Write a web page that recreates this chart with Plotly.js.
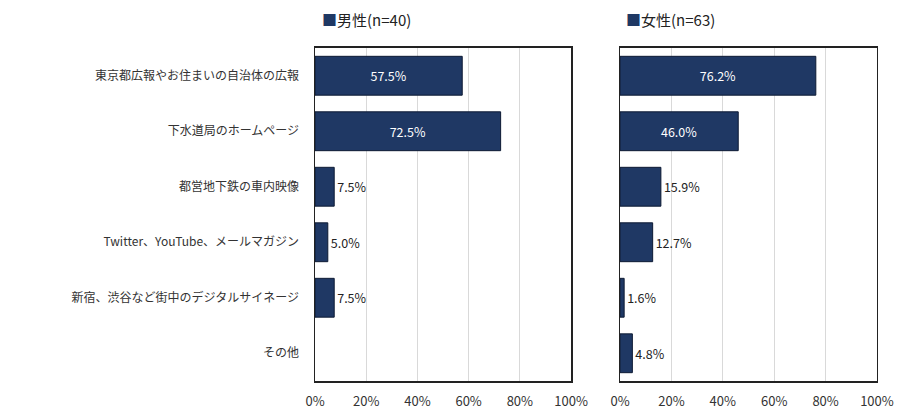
<!DOCTYPE html>
<html><head><meta charset="utf-8">
<script src="https://cdn.plot.ly/plotly-3.0.1.min.js"></script>
<style>html,body{margin:0;padding:0;background:#fff}#chart{width:899px;height:417px}</style>
</head><body><div id="chart"></div>
<script>
const categories = ["東京都広報やお住まいの自治体の広報","下水道局のホームページ","都営地下鉄の車内映像","Twitter、YouTube、メールマガジン","新宿、渋谷など街中のデジタルサイネージ","その他"];
const maleValues = [57.5, 72.5, 7.5, 5.0, 7.5, 0];
const femaleValues = [76.2, 46.0, 15.9, 12.7, 1.6, 4.8];
const maleName = "男性(n=40)";
const femaleName = "女性(n=63)";
const tickVals = [0, 20, 40, 60, 80, 100];
const tickText = ["0%", "20%", "40%", "60%", "80%", "100%"];

const navy = "#1f3864";
const font = "'Noto Sans CJK JP', 'Noto Sans', sans-serif";
function texts(v){ return v.map(x => x > 0 ? x.toFixed(1) + "%" : ""); }
function pos(v){ return v.map(x => x >= 40 ? "inside" : "outside"); }
function lw(v){ return v.map(x => x > 0 ? 1 : 0); }

function mk(vals, xa, ya){
  return {type:"bar", orientation:"h", y:categories, x:vals, xaxis:xa, yaxis:ya,
   text:texts(vals), textposition:pos(vals), insidetextanchor:"middle",
   texttemplate:"%{text}", constraintext:"none", cliponaxis:false,
   insidetextfont:{color:"#ffffff", size:12.5, family:font}, outsidetextfont:{color:"#222", size:12.5, family:font},
   marker:{color:navy, line:{color:"#0d1a33", width:lw(vals)}}, hoverinfo:"skip"};
}
const traces = [mk(maleValues, "x", "y"), mk(femaleValues, "x2", "y2")];

const xBase = {range:[0,100], tickmode:"array", tickvals:tickVals, ticktext:tickText, showgrid:true, gridcolor:"#d9d9d9", gridwidth:1,
  showline:true, mirror:true, linecolor:"#222", linewidth:1.5, zeroline:false, ticks:"", ticklabelstandoff:8,
  tickfont:{size:13, color:"#333", family:font}, fixedrange:true};
const yBase = {autorange:"reversed", showline:true, mirror:true, linecolor:"#222", linewidth:1.5, ticks:"",
  tickfont:{size:12, color:"#333", family:font}, fixedrange:true, domain:[0.0863, 0.8849]};

const layout = {
  width:899, height:417, margin:{l:0, r:0, t:0, b:0}, showlegend:false,
  paper_bgcolor:"#fff", plot_bgcolor:"#fff", bargap:0.3,
  font:{family:font},
  xaxis:Object.assign({}, xBase, {domain:[0.3504, 0.6352], anchor:"y"}),
  xaxis2:Object.assign({}, xBase, {domain:[0.6897, 0.9755], anchor:"y2"}),
  yaxis:Object.assign({}, yBase, {anchor:"x", ticklabelstandoff:12}),
  yaxis2:Object.assign({}, yBase, {anchor:"x2", showticklabels:false}),
  annotations:[
    {xref:"paper", yref:"paper", x:320/899, y:1-19/417, xanchor:"left", yanchor:"middle", showarrow:false,
     text:'<span style="color:'+navy+'">■</span>'+maleName, font:{size:15, color:"#222", family:font}},
    {xref:"paper", yref:"paper", x:624/899, y:1-19/417, xanchor:"left", yanchor:"middle", showarrow:false,
     text:'<span style="color:'+navy+'">■</span>'+femaleName, font:{size:15, color:"#222", family:font}}
  ]
};
Plotly.newPlot("chart", traces, layout, {displayModeBar:false, staticPlot:true});
</script></body></html>
